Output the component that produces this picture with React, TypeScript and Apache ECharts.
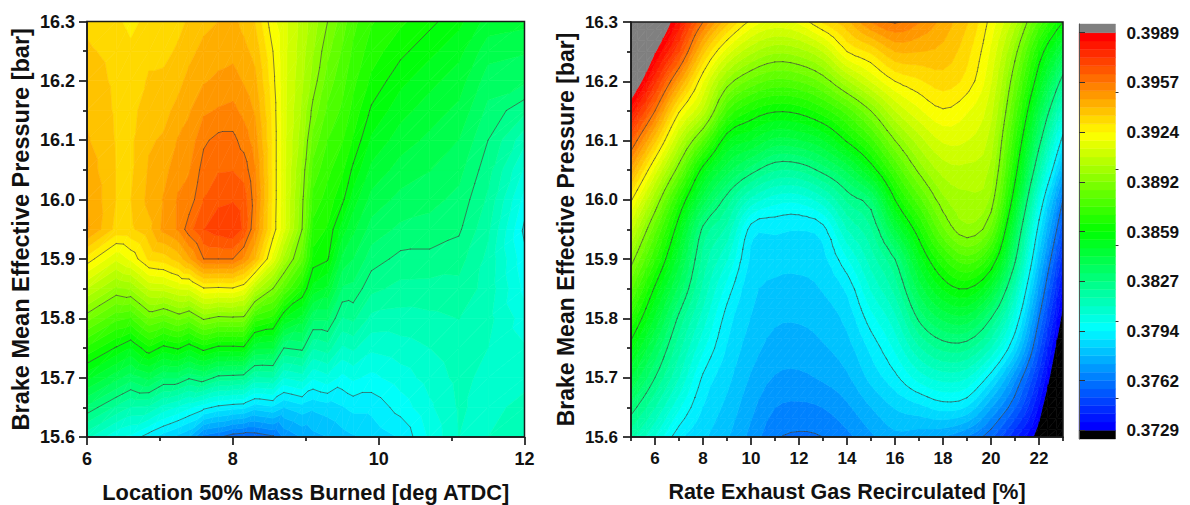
import React, { useEffect, useRef } from "react";
import * as echarts from "echarts";

// Contour level of the colour scale: value = LEVEL_BASE + level * LEVEL_STEP
const LEVEL_BASE = 0.3729;
const LEVEL_STEP = 0.00325;
const BANDS_PER_LEVEL = 6;
const TICK_LABELS = ["0.3729", "0.3762", "0.3794", "0.3827", "0.3859", "0.3892", "0.3924", "0.3957", "0.3989"];
const MINOR_TICKS = [0.375, 0.38, 0.385, 0.39, 0.395];
const PALETTE = [[0, 0, 255], [0, 255, 255], [0, 255, 0], [255, 255, 0], [255, 0, 0]];

const pressure = [15.6, 15.65, 15.7, 15.75, 15.8, 15.85, 15.9, 15.95, 16.0, 16.05, 16.1, 16.15, 16.2, 16.25, 16.3];

const leftX = [6, 6.4, 6.6, 6.85, 7.05, 7.25, 7.4, 7.6, 7.8, 8, 8.15, 8.3, 8.55, 8.7, 8.95, 9.1, 9.3, 9.5, 9.65, 9.9, 10.3, 10.7, 11.1, 11.5, 12];
// one column per leftX, one entry per pressure, in contour level units
const leftLevels = [
  [2.55, 3.12, 3.72, 4.3, 4.9, 5.5, 6.1, 6.7, 6.67, 6.6, 6.52, 6.47, 6.42, 6.36, 6.3],
  [2.2, 2.8, 3.39, 3.98, 4.55, 5.13, 5.7, 6.28, 6.33, 6.33, 6.32, 6.31, 6.3, 6.28, 6.2],
  [2.12, 2.65, 3.24, 3.82, 4.49, 5.19, 5.87, 6.3, 6.33, 6.3, 6.3, 6.28, 6.25, 6.2, 6.12],
  [1.9, 2.63, 3.38, 4.13, 4.84, 5.53, 6.2, 6.45, 6.55, 6.52, 6.48, 6.42, 6.35, 6.3, 6.22],
  [1.75, 2.43, 3.17, 3.94, 4.73, 5.56, 6.25, 6.72, 6.68, 6.6, 6.52, 6.45, 6.36, 6.3, 6.25],
  [1.62, 2.31, 3.17, 4.03, 4.88, 5.68, 6.4, 6.85, 6.85, 6.78, 6.68, 6.55, 6.45, 6.35, 6.3],
  [1.5, 2.2, 3.03, 3.88, 4.77, 5.7, 6.63, 7.1, 6.9, 6.82, 6.72, 6.65, 6.55, 6.45, 6.35],
  [1.1, 2.06, 3.13, 4.08, 5.04, 5.98, 7.0, 7.33, 7.17, 7.07, 6.97, 6.8, 6.65, 6.55, 6.45],
  [1.03, 1.95, 2.94, 3.94, 4.94, 5.96, 7.0, 7.42, 7.3, 7.15, 7.05, 6.85, 6.7, 6.6, 6.5],
  [0.9, 1.9, 2.92, 3.94, 4.96, 5.98, 7.0, 7.48, 7.32, 7.16, 7.05, 6.88, 6.73, 6.62, 6.55],
  [0.87, 1.88, 2.9, 3.96, 4.95, 5.87, 6.8, 7.3, 7.25, 7.1, 6.93, 6.78, 6.65, 6.55, 6.45],
  [0.88, 1.74, 2.64, 3.53, 4.43, 5.45, 6.5, 6.85, 6.92, 6.85, 6.75, 6.65, 6.55, 6.45, 6.33],
  [0.97, 1.81, 2.66, 3.5, 4.28, 5.0, 5.77, 6.1, 6.12, 6.12, 6.12, 6.1, 6.05, 6.0, 5.88],
  [1.2, 1.67, 2.33, 3.0, 3.83, 4.67, 5.3, 5.72, 5.72, 5.72, 5.72, 5.72, 5.72, 5.72, 5.72],
  [1.35, 1.77, 2.42, 3.05, 3.6, 4.17, 4.72, 5.0, 5.05, 5.13, 5.23, 5.3, 5.36, 5.4, 5.43],
  [1.45, 1.7, 2.19, 2.68, 3.2, 3.77, 4.1, 4.27, 4.44, 4.6, 4.77, 4.94, 5.1, 5.18, 5.25],
  [1.5, 1.75, 2.28, 2.75, 3.2, 3.63, 4.02, 4.15, 4.26, 4.38, 4.5, 4.63, 4.75, 4.88, 5.0],
  [1.6, 1.82, 2.12, 2.47, 2.82, 3.15, 3.45, 3.75, 4.05, 4.2, 4.35, 4.47, 4.56, 4.65, 4.75],
  [1.65, 1.88, 2.2, 2.53, 2.87, 3.12, 3.33, 3.54, 3.75, 3.96, 4.15, 4.28, 4.38, 4.47, 4.55],
  [1.72, 1.88, 2.12, 2.37, 2.62, 2.88, 3.08, 3.26, 3.44, 3.62, 3.8, 3.97, 4.13, 4.25, 4.35],
  [1.85, 2.07, 2.25, 2.43, 2.6, 2.78, 2.95, 3.13, 3.28, 3.43, 3.58, 3.73, 3.88, 4.05, 4.2],
  [2.2, 2.3, 2.4, 2.5, 2.63, 2.77, 2.95, 3.1, 3.22, 3.34, 3.46, 3.58, 3.72, 3.88, 4.05],
  [2.5, 2.52, 2.55, 2.6, 2.67, 2.78, 2.9, 3.03, 3.12, 3.22, 3.33, 3.46, 3.58, 3.72, 3.88],
  [2.5, 2.45, 2.45, 2.5, 2.55, 2.6, 2.62, 2.7, 2.8, 2.9, 3.0, 3.12, 3.25, 3.4, 3.6],
  [2.65, 2.55, 2.45, 2.35, 2.25, 2.12, 2.05, 1.96, 2.1, 2.3, 2.55, 2.88, 3.2, 3.35, 3.55],
];

const rightX = [5, 6, 7, 8, 9, 10, 11, 12, 13, 14, 15, 16, 17, 18, 19, 20, 21, 22, 23];
const rightLevels = [
  [2.72, 3.1, 3.5, 3.89, 4.3, 4.7, 5.1, 5.55, 6.03, 6.62, 7.2, 7.77, 8.35, 8.9, 9.5],
  [2.33, 2.67, 3.0, 3.3, 3.63, 3.96, 4.35, 4.72, 5.2, 5.75, 6.38, 7.0, 7.55, 8.02, 8.5],
  [1.88, 2.2, 2.5, 2.72, 2.95, 3.27, 3.56, 3.85, 4.25, 4.87, 5.45, 6.03, 6.7, 7.35, 7.75],
  [1.7, 1.83, 1.97, 2.2, 2.42, 2.62, 2.77, 2.95, 3.42, 3.9, 4.67, 5.45, 5.85, 6.4, 7.0],
  [1.52, 1.62, 1.72, 1.82, 1.92, 2.1, 2.35, 2.62, 2.92, 3.4, 3.85, 4.5, 5.12, 5.75, 6.4],
  [1.28, 1.38, 1.48, 1.58, 1.66, 1.72, 1.8, 1.92, 2.45, 3.08, 3.66, 4.16, 4.78, 5.38, 5.95],
  [1.03, 1.17, 1.32, 1.43, 1.53, 1.63, 1.73, 1.87, 2.24, 2.84, 3.44, 4.02, 4.62, 5.2, 5.78],
  [0.97, 1.13, 1.3, 1.41, 1.52, 1.62, 1.72, 1.84, 2.22, 2.85, 3.48, 4.06, 4.67, 5.26, 5.87],
  [1.0, 1.17, 1.36, 1.48, 1.58, 1.68, 1.78, 1.93, 2.44, 3.07, 3.65, 4.26, 4.88, 5.5, 6.2],
  [1.12, 1.3, 1.47, 1.6, 1.72, 1.87, 2.15, 2.5, 2.87, 3.37, 4.03, 4.57, 5.3, 6.0, 6.45],
  [1.3, 1.5, 1.72, 1.88, 2.1, 2.35, 2.58, 2.81, 3.14, 3.86, 4.44, 5.0, 5.68, 6.2, 6.85],
  [1.45, 1.68, 1.95, 2.2, 2.45, 2.73, 3.0, 3.5, 4.0, 4.5, 5.0, 5.5, 6.0, 6.5, 7.02],
  [1.4, 1.78, 2.24, 2.64, 3.04, 3.4, 3.75, 4.14, 4.6, 5.05, 5.42, 5.8, 6.14, 6.5, 6.85],
  [1.33, 1.9, 2.4, 2.88, 3.37, 3.85, 4.3, 4.8, 5.12, 5.4, 5.69, 5.98, 6.25, 6.45, 6.6],
  [1.15, 1.82, 2.34, 2.87, 3.43, 4.0, 4.6, 5.12, 5.28, 5.45, 5.67, 5.85, 6.1, 6.22, 6.35],
  [0.88, 1.35, 1.9, 2.5, 3.0, 3.6, 4.22, 4.78, 5.12, 5.28, 5.42, 5.55, 5.68, 5.8, 5.93],
  [0.37, 0.85, 1.22, 1.77, 2.2, 2.6, 3.05, 3.4, 3.8, 4.12, 4.35, 4.6, 4.83, 5.08, 5.4],
  [-0.15, 0.14, 0.43, 0.72, 1.0, 1.3, 1.6, 1.9, 2.25, 2.7, 3.1, 3.45, 3.82, 4.15, 4.6],
  [-1.2, -0.9, -0.6, -0.35, -0.1, 0.12, 0.4, 0.7, 1.0, 1.45, 1.9, 2.4, 2.88, 3.43, 4.0],
];

const FONT = '"Liberation Sans", Arial, sans-serif';
const TOTAL_BANDS = 8 * BANDS_PER_LEVEL;
const toValue = (l: number) => LEVEL_BASE + l * LEVEL_STEP;

function bandColor(k: number) {
  if (k < 0) return "#000000";
  if (k >= TOTAL_BANDS) return "#808080";
  const t = (k / (TOTAL_BANDS - 1)) * (PALETTE.length - 1);
  const i = Math.min(Math.floor(t), PALETTE.length - 2);
  const f = t - i;
  const c = PALETTE[i].map((v, n) => Math.round(v + (PALETTE[i + 1][n] - v) * f));
  return `rgb(${c[0]},${c[1]},${c[2]})`;
}

type V = [number, number, number];
function clip(poly: V[], limit: number, keepAbove: boolean): V[] {
  const out: V[] = [];
  const inside = (v: V) => (keepAbove ? v[2] >= limit : v[2] <= limit);
  for (let i = 0; i < poly.length; i++) {
    const a = poly[i];
    const b = poly[(i + 1) % poly.length];
    const ia = inside(a);
    const ib = inside(b);
    if (ia) out.push(a);
    if (ia !== ib) {
      const f = (limit - a[2]) / (b[2] - a[2]);
      out.push([a[0] + (b[0] - a[0]) * f, a[1] + (b[1] - a[1]) * f, limit]);
    }
  }
  return out;
}

// Catmull-Rom rendering of a uniform value grid, so a contour is drawn as a curve
function cr(a: number, b: number, c: number, d: number, t: number) {
  return 0.5 * (2 * b + (c - a) * t + (2 * a - 5 * b + 4 * c - d) * t * t + (3 * b - a - 3 * c + d) * t * t * t);
}
function resample(line: number[], n: number) {
  const out: number[] = [];
  for (let i = 0; i < line.length - 1; i++) {
    const a = line[Math.max(i - 1, 0)];
    const d = line[Math.min(i + 2, line.length - 1)];
    for (let s = 0; s < n; s++) out.push(cr(a, line[i], line[i + 1], d, s / n));
  }
  out.push(line[line.length - 1]);
  return out;
}
function smooth(xs: number[], ys: number[], cols: number[][], n: number) {
  const sx = resample(xs, n);
  const sy = resample(ys, n);
  const byCol = cols.map((c) => resample(c, n));
  const rows = sy.map((_, j) => resample(byCol.map((c) => c[j]), n));
  const out = sx.map((_, i) => sy.map((_, j) => rows[j][i]));
  return { xs: sx, ys: sy, cols: out };
}

function triangles(xs: number[], ys: number[], cols: number[][]) {
  const tris: V[][] = [];
  for (let i = 0; i < xs.length - 1; i++) {
    for (let j = 0; j < ys.length - 1; j++) {
      const p00: V = [xs[i], ys[j], toValue(cols[i][j])];
      const p10: V = [xs[i + 1], ys[j], toValue(cols[i + 1][j])];
      const p01: V = [xs[i], ys[j + 1], toValue(cols[i][j + 1])];
      const p11: V = [xs[i + 1], ys[j + 1], toValue(cols[i + 1][j + 1])];
      tris.push([p00, p10, p11], [p00, p11, p01]);
    }
  }
  return tris;
}

const bandLimit = (k: number) => toValue(k / BANDS_PER_LEVEL);

function contourSeries(xs: number[], ys: number[], cols: number[][], axis: number) {
  const tris = triangles(xs, ys, cols);
  const data = tris.map((t) => [t[0][0], t[0][1]]);
  const fill = {
    type: "custom",
    xAxisIndex: axis,
    yAxisIndex: axis,
    clip: true,
    silent: true,
    progressive: 0,
    encode: { x: 0, y: 1 },
    data,
    z: 2,
    renderItem: (params: any, api: any) => {
      const tri = tris[params.dataIndex];
      const children: any[] = [];
      for (let k = -1; k <= TOTAL_BANDS; k++) {
        let poly: V[] = tri;
        if (k >= 0) poly = clip(poly, bandLimit(k), true);
        if (poly.length && k < TOTAL_BANDS) poly = clip(poly, bandLimit(k + 1), false);
        if (poly.length < 3) continue;
        const color = bandColor(k);
        children.push({
          type: "polygon",
          shape: { points: poly.map((v) => api.coord([v[0], v[1]])) },
          style: { fill: color, stroke: color, lineWidth: 0.6 },
        });
      }
      return { type: "group", children };
    },
  };
  const lines = {
    type: "custom",
    xAxisIndex: axis,
    yAxisIndex: axis,
    clip: true,
    silent: true,
    progressive: 0,
    encode: { x: 0, y: 1 },
    data,
    z: 3,
    renderItem: (params: any, api: any) => {
      const tri = tris[params.dataIndex];
      const children: any[] = [];
      for (let l = 1; l <= 7; l++) {
        const level = toValue(l);
        const pts: number[][] = [];
        for (let i = 0; i < 3; i++) {
          const a = tri[i];
          const b = tri[(i + 1) % 3];
          if (a[2] >= level !== b[2] >= level) {
            const f = (level - a[2]) / (b[2] - a[2]);
            pts.push(api.coord([a[0] + (b[0] - a[0]) * f, a[1] + (b[1] - a[1]) * f]));
          }
        }
        if (pts.length === 2) {
          children.push({
            type: "line",
            shape: { x1: pts[0][0], y1: pts[0][1], x2: pts[1][0], y2: pts[1][1] },
            style: { stroke: "#404040", lineWidth: 0.65, lineCap: "round" },
          });
        }
      }
      return { type: "group", children };
    },
  };
  return [fill, lines];
}

const lineStyle = { color: "#1a1a1a", width: 1.5 };
const tickStyle = { color: "#1a1a1a", width: 1.7 };

function pressureAxis(gridIndex: number, fontSize: number, nameSize: number, nameGap: number, margin: number) {
  return {
    type: "value",
    gridIndex,
    min: 15.6,
    max: 16.3,
    interval: 0.1,
    minorTick: { show: true, splitNumber: 2, length: 4, lineStyle: tickStyle },
    minorSplitLine: { show: false },
    splitLine: { show: false },
    axisLine: { show: true, lineStyle },
    axisTick: { show: true, length: 8, lineStyle: tickStyle },
    axisLabel: {
      fontFamily: FONT,
      fontWeight: "bold",
      fontSize,
      color: "#111",
      margin,
      formatter: (v: number) => v.toFixed(1),
    },
    name: "Brake Mean Effective Pressure [bar]",
    nameLocation: "middle",
    nameGap,
    nameTextStyle: { fontFamily: FONT, fontWeight: "bold", fontSize: nameSize, color: "#111" },
    z: 5,
  };
}

const rightMajor = [6, 8, 10, 12, 14, 16, 18, 20, 22];
const rightMinor = [5, 7, 9, 11, 13, 15, 17, 19, 21, 23];

export default function App() {
  const ref = useRef<HTMLDivElement>(null);
  useEffect(() => {
    const chart = echarts.init(ref.current!, undefined, { renderer: "svg" });
    const barPad = 8.7 / 49.75;
    const barBands = Array.from({ length: TOTAL_BANDS + 2 }, (_, i) => i - 1);
    const barTicks = TICK_LABELS.map((_, i) => toValue(i));
    const rightSmooth = smooth(rightX, pressure, rightLevels, 3);
    chart.setOption({
      animation: false,
      backgroundColor: "#fff",
      grid: [
        { left: 87, width: 437.5, top: 21.5, height: 415.5, show: true, borderColor: "#1a1a1a", borderWidth: 1.5, z: 5, outerBoundsMode: "none" },
        { left: 631, width: 432, top: 22, height: 415, show: true, borderColor: "#1a1a1a", borderWidth: 1.5, z: 5, outerBoundsMode: "none" },
        { left: 1079, width: 36.5, top: 24, height: 415, show: false, outerBoundsMode: "none" },
      ],
      xAxis: [
        {
          type: "value",
          gridIndex: 0,
          min: 6,
          max: 12,
          interval: 2,
          position: "bottom",
          splitLine: { show: false },
          minorSplitLine: { show: false },
          minorTick: { show: true, splitNumber: 2, length: 4, lineStyle: tickStyle },
          axisLine: { show: true, lineStyle },
          axisTick: { show: true, length: 8, lineStyle: tickStyle },
          axisLabel: { fontFamily: FONT, fontWeight: "bold", fontSize: 18, color: "#111", margin: 13 },
          name: "Location 50% Mass Burned [deg ATDC]",
          nameLocation: "middle",
          nameGap: 44,
          nameTextStyle: { fontFamily: FONT, fontWeight: "bold", fontSize: 21.8, color: "#111" },
          z: 5,
        },
        {
          type: "value",
          gridIndex: 1,
          min: 5,
          max: 23,
          position: "bottom",
          splitLine: { show: false },
          axisLine: { show: true, lineStyle },
          axisTick: { show: true, length: 8, lineStyle: tickStyle, customValues: rightMajor },
          axisLabel: { fontFamily: FONT, fontWeight: "bold", fontSize: 17, color: "#111", margin: 13, customValues: rightMajor },
          name: "Rate Exhaust Gas Recirculated [%]",
          nameLocation: "middle",
          nameGap: 44,
          nameTextStyle: { fontFamily: FONT, fontWeight: "bold", fontSize: 21.5, color: "#111" },
          z: 5,
        },
        {
          type: "value",
          gridIndex: 1,
          min: 5,
          max: 23,
          position: "bottom",
          splitLine: { show: false },
          axisLine: { show: false },
          axisTick: { show: true, length: 4, lineStyle: tickStyle, customValues: rightMinor },
          axisLabel: { show: false, customValues: rightMinor },
          z: 5,
        },
        { type: "value", gridIndex: 2, min: 0, max: 1, show: false },
      ],
      yAxis: [
        pressureAxis(0, 18, 23.5, 54, 12),
        pressureAxis(1, 17, 23, 54, 13),
        {
          type: "value",
          gridIndex: 2,
          position: "right",
          min: toValue(-barPad),
          max: toValue(8 + barPad),
          splitLine: { show: false },
          axisLine: { show: true, lineStyle: { color: "#555", width: 1 } },
          axisTick: { show: true, length: 6, lineStyle: { color: "#333", width: 1 }, customValues: barTicks },
          axisLabel: {
            customValues: barTicks,
            fontFamily: FONT,
            fontWeight: "bold",
            fontSize: 17.2,
            color: "#111",
            margin: 11,
            formatter: (v: number) => TICK_LABELS[Math.round((v - LEVEL_BASE) / LEVEL_STEP)],
          },
          z: 5,
        },
        {
          type: "value",
          gridIndex: 2,
          position: "right",
          min: toValue(-barPad),
          max: toValue(8 + barPad),
          splitLine: { show: false },
          axisLine: { show: false },
          axisTick: { show: true, length: 3, lineStyle: { color: "#333", width: 1 }, customValues: MINOR_TICKS },
          axisLabel: { show: false, customValues: MINOR_TICKS },
          z: 5,
        },
      ],
      series: [
        ...contourSeries(leftX, pressure, leftLevels, 0),
        ...contourSeries(rightSmooth.xs, rightSmooth.ys, rightSmooth.cols, 1),
        {
          type: "custom",
          xAxisIndex: 3,
          yAxisIndex: 2,
          silent: true,
          encode: { x: 0, y: 1 },
          data: barBands.map((k) => [0, k]),
          renderItem: (params: any, api: any) => {
            const k = barBands[params.dataIndex];
            const lo = k < 0 ? toValue(-barPad) : bandLimit(k);
            const hi = k >= TOTAL_BANDS ? toValue(8 + barPad) : bandLimit(k + 1);
            const a = api.coord([0, hi]);
            const b = api.coord([1, lo]);
            return {
              type: "rect",
              shape: { x: a[0], y: a[1], width: b[0] - a[0], height: b[1] - a[1] },
              style: { fill: bandColor(k), stroke: bandColor(k), lineWidth: 0.4 },
            };
          },
        },
      ],
    });
    return () => chart.dispose();
  }, []);
  return <div ref={ref} style={{ position: "absolute", left: 0, top: 0, width: 1190, height: 505 }} />;
}
